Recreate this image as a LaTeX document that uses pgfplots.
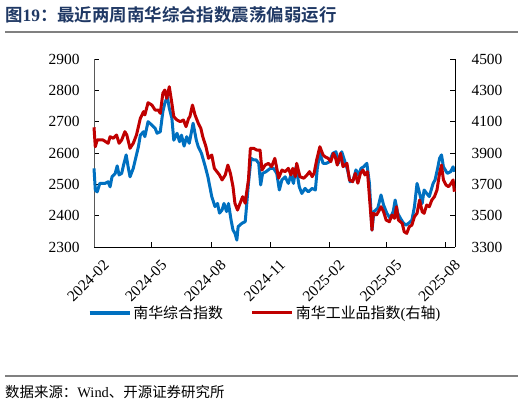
\documentclass[border=0pt]{standalone}
\usepackage{pgfplots}
\pgfplotsset{compat=1.18}
\usepackage{pgfplotstable}
\usepackage{fontspec}
\setmainfont{Liberation Serif}
\newfontfamily\cjk{Noto Sans CJK SC}[BoldFont={Noto Sans CJK SC Bold}]
\definecolor{nhblue}{HTML}{0070C0}
\definecolor{nhred}{HTML}{C00000}
\definecolor{titleblue}{HTML}{1F3864}

\pgfplotstableread{
day value
0 2551
2 2482
5 2476
9 2503
17 2503
22 2508
25 2492
28 2524
33 2535
36 2559
39 2530
43 2535
46 2562
50 2594
53 2556
56 2524
61 2551
66 2594
69 2620
72 2657
77 2668
79 2652
84 2700
90 2689
95 2679
98 2663
103 2668
107 2732
110 2759
114 2780
117 2743
121 2711
124 2641
129 2663
133 2636
136 2657
140 2622
144 2652
148 2631
152 2673
154 2695
159 2641
162 2620
167 2599
173 2556
177 2524
179 2503
183 2461
188 2429
192 2439
195 2408
199 2418
202 2439
206 2413
209 2439
213 2386
216 2354
219 2344
222 2322
224 2365
230 2376
235 2381
237 2429
240 2503
244 2583
248 2578
252 2578
256 2567
259 2498
262 2535
267 2540
274 2551
279 2551
284 2535
288 2482
292 2514
297 2524
302 2503
306 2530
310 2503
314 2556
319 2492
323 2471
328 2487
333 2476
339 2487
344 2482
347 2551
351 2599
356 2567
361 2567
366 2572
371 2599
376 2604
380 2567
385 2604
389 2578
394 2546
398 2508
403 2514
407 2546
411 2530
415 2551
419 2556
424 2567
428 2503
432 2354
435 2413
441 2424
446 2466
450 2434
455 2408
460 2392
465 2413
468 2450
472 2408
476 2392
481 2376
485 2370
489 2376
494 2386
498 2429
502 2503
506 2471
510 2439
513 2482
517 2471
521 2461
527 2503
530 2514
534 2551
537 2583
540 2594
543 2556
549 2535
554 2540
558 2556
560 2540
}\bluedata

\pgfplotstableread{
day value
0 4064
2 3940
5 3983
14 3983
22 3962
25 4004
30 3994
35 4015
39 3962
43 3983
48 4036
51 4015
56 3930
61 3962
66 4015
72 4121
77 4164
79 4143
84 4221
90 4206
95 4174
100 4174
103 4153
107 4281
110 4302
113 4249
117 4323
121 4217
124 4132
129 4111
134 4100
139 4111
143 4068
147 4121
149 4132
153 4206
157 4143
162 4090
166 4058
169 4004
174 3940
178 3866
183 3887
187 3802
191 3781
195 3760
199 3728
204 3760
208 3823
212 3770
216 3685
219 3579
223 3536
227 3579
231 3621
235 3579
237 3643
240 3728
243 3930
248 3930
253 3919
258 3919
261 3791
266 3823
271 3834
276 3813
281 3866
287 3740
292 3791
297 3781
302 3802
306 3760
309 3802
313 3749
315 3834
320 3749
326 3739
331 3760
335 3781
339 3749
342 3770
346 3855
351 3940
356 3887
359 3876
364 3866
368 3845
372 3898
375 3876
378 3823
383 3898
387 3813
393 3834
397 3728
402 3717
406 3770
410 3707
414 3770
418 3791
421 3760
425 3781
428 3621
432 3408
434 3515
439 3504
442 3525
446 3557
450 3525
454 3472
459 3461
463 3504
467 3483
470 3557
473 3472
479 3451
482 3398
486 3387
490 3430
494 3440
498 3494
502 3515
506 3600
510 3525
513 3515
517 3568
521 3557
525 3600
529 3621
533 3664
537 3770
540 3823
543 3728
547 3696
551 3685
555 3707
558 3728
560 3653
}\reddata

\pgfplotsset{
  common/.style={
    at={(94bp,159bp)}, anchor=south west,
    scale only axis, width=361bp, height=188bp,
    xmin=0, xmax=561,
    tick align=inside, major tick length=5bp,
    axis line style={-, line width=0.9bp},
    tick style={line width=0.9bp, black},
    /pgf/number format/assume math mode=true,
    /pgf/number format/1000 sep={},
    ticklabel style={font=\fontsize{15.5}{16}\selectfont},
    clip=false,
  }
}

\begin{document}
\begin{tikzpicture}[x=1bp,y=1bp]
\path[use as bounding box] (0,0) rectangle (524,406);
\node[anchor=west, inner sep=0, text=titleblue, font=\fontsize{17.5}{20}\selectfont\bfseries] at (5,391) {\cjk 图{\rmfamily 19}：最近两周南华综合指数震荡偏弱运行};
\draw[gray, line width=1.6bp] (5,374) -- (518,374);
\draw[gray, line width=1.2bp] (5,30) -- (518,30);
\node[anchor=west, inner sep=0, font=\fontsize{14.5}{16}\selectfont] at (5,14) {{\cjk 数据来源：}Wind{\cjk 、开源证券研究所}};

\begin{axis}[common,
  ymin=2300, ymax=2900, ytick={2300,2400,...,2900},
  axis x line*=bottom, axis y line*=left,
  y axis line style={gray!70!black},
  xtick={0,90,182,274,366,455,546},
  xticklabels={2024-02,2024-05,2024-08,2024-11,2025-02,2025-05,2025-08},
  xticklabel style={rotate=45, anchor=north east, xshift=1bp, yshift=-11bp},
  yticklabel style={xshift=-11bp},
]
\addplot[nhblue, line width=3bp, line join=round] table[x=day, y=value] {\bluedata};
\end{axis}

\begin{axis}[common,
  ymin=3300, ymax=4500, ytick={3300,3500,...,4500},
  axis x line=none, axis y line*=right,
  yticklabel style={xshift=13bp},
  legend style={at={(0.474,-0.351)}, anchor=center, draw=none, fill=none,
    legend columns=2, font=\fontsize{15}{16}\selectfont,
    /tikz/every even column/.append style={column sep=26bp}},
  legend image code/.code={\draw[#1] (0bp,0bp) -- (40bp,0bp);},
]
\addlegendimage{nhblue, line width=3.5bp}
\addlegendentry{\cjk 南华综合指数}
\addplot[nhred, line width=3bp, line join=round] table[x=day, y=value] {\reddata};
\addlegendentry{{\cjk 南华工业品指数}({\cjk 右轴})}
\end{axis}
\end{tikzpicture}
\end{document}
